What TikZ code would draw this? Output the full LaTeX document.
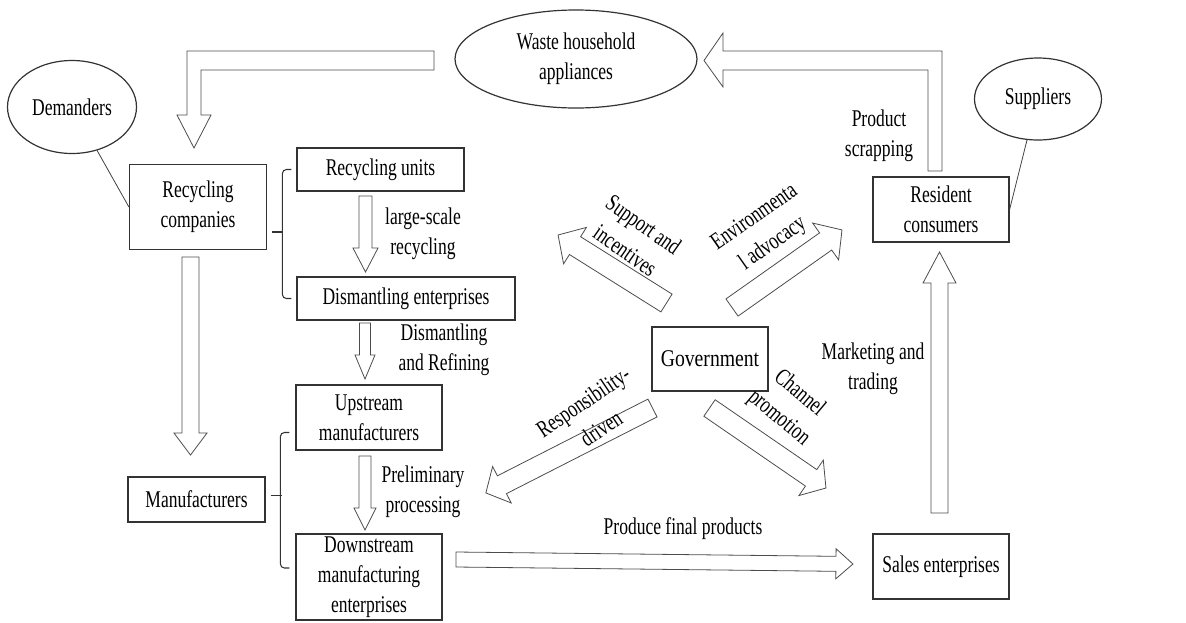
\documentclass[tikz,border=0pt]{standalone}
\usepackage{fontspec}
\setmainfont[FakeStretch=0.73]{Liberation Serif}
\newfontfamily\govfont[FakeStretch=0.82]{Liberation Serif}
\usetikzlibrary{shapes.geometric}

% hollow block arrow: tail x, tail y, angle, length, shaft, head, head length
\newcommand{\barrow}[7]{%
  \begin{scope}[shift={(#1,#2)},rotate=#3]
    \draw[hollow] (0,-#5/2) -- (#4-#7,-#5/2) -- (#4-#7,-#6/2) -- (#4,0) -- (#4-#7,#6/2) -- (#4-#7,#5/2) -- (0,#5/2) -- cycle;
  \end{scope}}

\begin{document}
\begin{tikzpicture}[x=0.75pt,y=-0.75pt,
  font=\fontsize{18}{22.5}\selectfont,
  box/.style={draw=black!80,line width=0.9pt,align=center,inner sep=0pt},
  oval/.style={draw=black!80,line width=0.9pt,ellipse,align=center,inner sep=0pt},
  lbl/.style={align=center,inner sep=0pt},
  tilted/.style={align=center,inner sep=0pt,font=\fontsize{18}{24}\selectfont},
  hollow/.style={draw=black!70,line width=0.6pt},
  brace/.style={draw=black!80,line width=0.8pt,rounded corners=3pt},
  link/.style={draw=black!75,line width=0.6pt}]
\useasboundingbox (0,0) rectangle (1186,622);
%
\node[oval,minimum width=181.5pt,minimum height=73.5pt] (waste) at (576,59) {Waste household\\appliances};
\node[oval,minimum width=96.75pt,minimum height=69.75pt] (demand) at (72,107) {Demanders};
\node[oval,minimum width=95.25pt,minimum height=61.5pt] (supply) at (1038,99) {Suppliers};
%
\node[box,minimum width=102.75pt,minimum height=63.75pt] (reccomp) at (198,207) {Recycling\\companies};
\node[box,minimum width=125.25pt,minimum height=32.25pt] (recunit) at (380.5,169.5) {Recycling units};
\node[box,minimum width=163.5pt,minimum height=32.25pt] (dismant) at (406,298.5) {Dismantling enterprises};
\node[box,minimum width=109.5pt,minimum height=48.75pt] (upstream) at (369,417.5) {Upstream\\manufacturers};
\node[box,minimum width=109.5pt,minimum height=64.5pt] (downstream) at (369,577) {Downstream\\manufacturing\\enterprises};
\node[box,minimum width=102.75pt,minimum height=33.75pt] (manuf) at (196.5,499.5) {Manufacturers};
\node[box,minimum width=87pt,minimum height=48pt,font=\govfont\fontsize{18}{22.5}\selectfont] (gov) at (710,359) {Government};
\node[box,minimum width=102pt,minimum height=48.75pt] (resident) at (941,209.5) {Resident\\consumers};
\node[box,minimum width=102pt,minimum height=48.75pt] (sales) at (941,566.5) {Sales enterprises};
%
\draw[link] (demand.-60) -- (reccomp.west);
\draw[link] (supply.-105) -- (resident.east);
%
\draw[brace] ([xshift=-3.75pt]recunit.west) -- ++(-9,0) |- ([xshift=-3.75pt]dismant.west);
\draw[brace] (reccomp.east) ++(5,25) -- ++(11,0);
\draw[brace] ([shift={(-6,15)}]upstream.west) -- ++(-9,0) |- ([shift={(-6,-9)}]downstream.west);
\draw[brace] (manuf.east) ++(5,-4) -- ++(11,0);
%
\draw[hollow] (434,51) -- (187,51) -- (187,115) -- (177,115) -- (194,148) -- (211,115) -- (201,115) -- (201,70) -- (434,70) -- cycle;
\draw[hollow] (928,171) -- (942,171) -- (942,51) -- (723,51) -- (723,33) -- (704,60.5) -- (723,87) -- (723,70) -- (928,70) -- cycle;
%
\barrow{190.5}{257}{-90}{198}{17}{33}{22}
\barrow{365.5}{196}{-90}{76}{13}{25}{24}
\barrow{365}{323}{-90}{56}{11}{20}{24}
\barrow{365}{456}{-90}{74}{12}{22}{22}
\barrow{939.5}{513}{90}{261}{17}{33}{31}
\barrow{456}{559.5}{-0.65}{397}{15}{30}{17}
%
\barrow{666.5}{303}{147.9}{128}{21}{43}{20}
\barrow{732}{307.5}{35.2}{134.6}{21}{45}{20}
\barrow{652.5}{408}{207}{187}{20}{41}{18}
\barrow{709.5}{408}{-34.5}{141.3}{20}{43}{18}
%
\node[lbl] (l1) at (423,234) {large-scale\\recycling};
\node[lbl] (l2) at (444,349.5) {Dismantling\\and Refining};
\node[lbl] (l3) at (423,492) {Preliminary\\processing};
\node[lbl] (l4) at (683,529) {Produce final products};
\node[lbl] (l5) at (873,368.5) {Marketing and\\trading};
\node[lbl] (l6) at (879,135.5) {Product\\scrapping};
%
\node[tilted,rotate=-35] (l7) at (634.5,237.5) {Support and\\incentives};
\node[tilted,rotate=35] (l8) at (764,231) {Environmenta\\l advocacy};
\node[tilted,rotate=34] (l9) at (592,415) {Responsibility-\\driven};
\node[tilted,rotate=-40] (l10) at (789,406) {Channel\\promotion};
\end{tikzpicture}
\end{document}
